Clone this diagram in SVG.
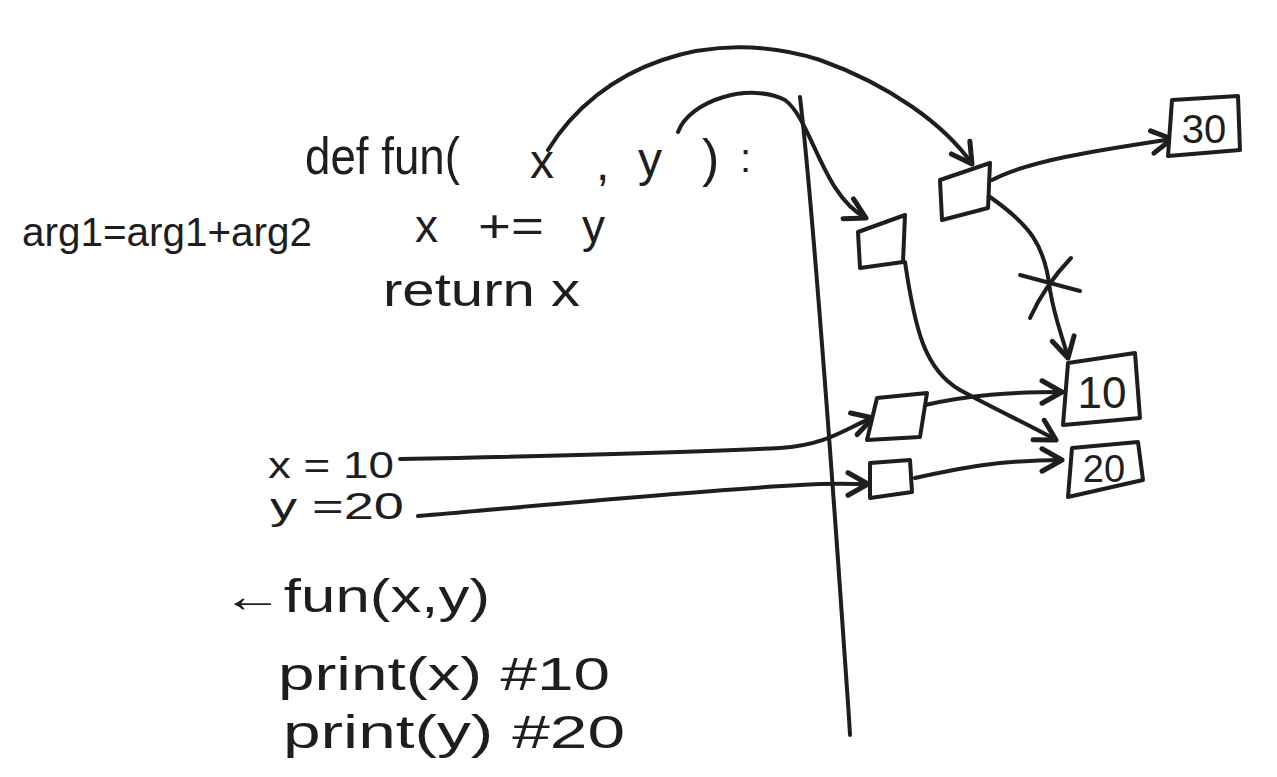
<svg xmlns="http://www.w3.org/2000/svg" width="1277" height="777" viewBox="0 0 1277 777">
<style>
.t{font-family:"Liberation Sans","DejaVu Sans",sans-serif;fill:#1e1e1e}
.s{fill:none;stroke:#1e1e1e;stroke-width:4;stroke-linecap:round;stroke-linejoin:round}
.b{fill:#ffffff;stroke:#1e1e1e;stroke-width:4;stroke-linecap:round;stroke-linejoin:round}
</style>
<defs>
<marker id="ah" markerUnits="userSpaceOnUse" markerWidth="30" markerHeight="30" viewBox="-20 -12 24 24" refX="0" refY="0" orient="auto">
<path d="M -16 -9 L 0 0 L -16 9" fill="none" stroke="#1e1e1e" stroke-width="4" stroke-linecap="round" stroke-linejoin="round"/>
</marker>
</defs>
<rect width="1277" height="777" fill="#ffffff"/>

<g id="code-def">
<text class="t" x="305" y="174" font-size="52" textLength="155" lengthAdjust="spacingAndGlyphs">def fun(</text>
<text class="t" x="530" y="178" font-size="48">x</text>
<text class="t" x="596" y="180" font-size="48">,</text>
<text class="t" x="638" y="176" font-size="48">y</text>
<text class="t" x="702" y="176" font-size="52">)</text>
<text class="t" x="740" y="172" font-size="40">:</text>
</g>
<g id="code-comment">
<text class="t" x="22" y="246" font-size="40" textLength="290" lengthAdjust="spacingAndGlyphs">arg1=arg1+arg2</text>
</g>
<g id="code-body">
<text class="t" x="415" y="242" font-size="46">x</text>
<text class="t" x="478" y="242" font-size="46" textLength="66" lengthAdjust="spacingAndGlyphs">+=</text>
<text class="t" x="582" y="242" font-size="46">y</text>
<text class="t" x="383" y="306" font-size="46" textLength="197" lengthAdjust="spacingAndGlyphs">return x</text>
</g>
<g id="code-main">
<text class="t" x="268" y="478" font-size="36" textLength="126" lengthAdjust="spacingAndGlyphs">x = 10</text>
<text class="t" x="270" y="519" font-size="36" textLength="134" lengthAdjust="spacingAndGlyphs">y =20</text>
<text class="t" x="222" y="612" font-size="46" textLength="268" lengthAdjust="spacingAndGlyphs">←fun(x,y)</text>
<text class="t" x="278" y="690" font-size="46" textLength="332" lengthAdjust="spacingAndGlyphs">print(x)  #10</text>
<text class="t" x="283" y="748" font-size="46" textLength="342" lengthAdjust="spacingAndGlyphs">print(y)  #20</text>
</g>

<g id="divider">
<path class="s" d="M 800 97 C 812 200, 828 420, 838 560 S 848 700 850 735"/>
</g>

<g id="connectors">
<path class="s" d="M 548 150 C 600 65, 710 25, 820 60 C 890 85, 945 125, 972 164" marker-end="url(#ah)"/>
<path class="s" d="M 678 132 C 690 100, 750 82, 785 100 C 812 120, 822 195, 866 218" marker-end="url(#ah)"/>
<path class="s" d="M 905 262 C 915 330, 925 370, 960 390 C 1000 412, 1030 425, 1056 440" marker-end="url(#ah)"/>
<path class="s" d="M 990 197 C 1030 225, 1045 245, 1050 290 C 1055 320, 1063 338, 1068 358" marker-end="url(#ah)"/>
<path class="s" d="M 992 180 C 1030 160, 1100 150, 1172 139" marker-end="url(#ah)"/>
<path class="s" d="M 400 459 C 550 456, 700 452, 780 448 C 830 445, 850 425, 873 418" marker-end="url(#ah)"/>
<path class="s" d="M 418 516 C 550 505, 700 490, 800 485 C 830 483, 850 484, 868 484" marker-end="url(#ah)"/>
<path class="s" d="M 925 405 C 970 395, 1010 392, 1062 392" marker-end="url(#ah)"/>
<path class="s" d="M 915 478 C 960 468, 1000 460, 1062 460" marker-end="url(#ah)"/>
<path class="s" d="M 1020 275 L 1080 291 M 1071 258 Q 1045 285 1030 318"/>
</g>

<g id="box-param-y">
<path class="b" d="M 858 232 L 905 215 L 903 262 L 860 268 Z"/>
</g>
<g id="box-param-x">
<path class="b" d="M 940 180 L 990 163 L 988 208 L 942 220 Z"/>
</g>
<g id="box-global-x">
<path class="b" d="M 877 398 L 927 393 L 920 437 L 867 440 Z"/>
</g>
<g id="box-global-y">
<path class="b" d="M 870 463 L 910 460 L 912 492 L 870 498 Z"/>
</g>
<g id="obj-30">
<path class="b" d="M 1172 100 L 1238 96 L 1240 150 L 1168 156 Z"/>
<text class="t" x="1204" y="143" font-size="40" text-anchor="middle">30</text>
</g>
<g id="obj-10">
<path class="b" d="M 1068 363 L 1135 353 L 1140 418 L 1063 425 Z"/>
<text class="t" x="1102" y="408" font-size="44" text-anchor="middle">10</text>
</g>
<g id="obj-20">
<path class="b" d="M 1072 448 L 1138 442 L 1143 480 L 1068 497 Z"/>
<text class="t" x="1104" y="482" font-size="38" text-anchor="middle">20</text>
</g>
</svg>
